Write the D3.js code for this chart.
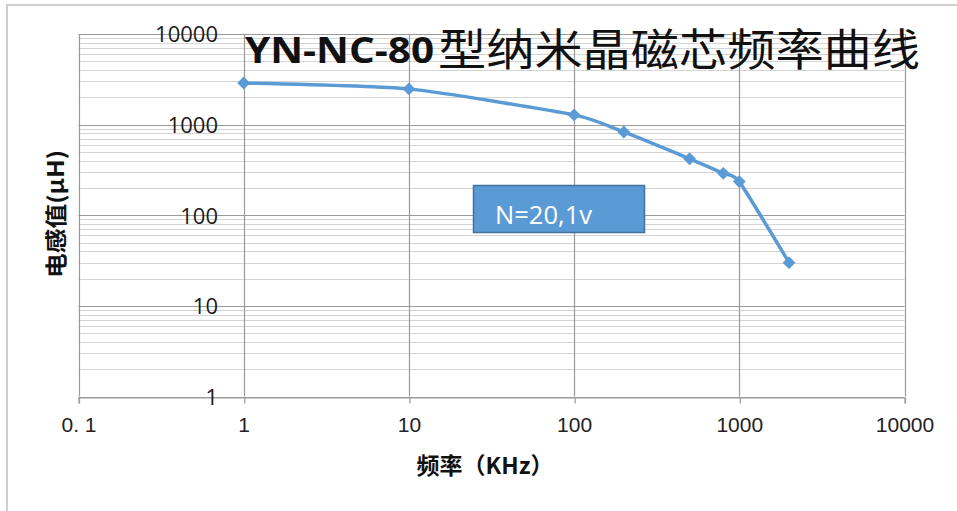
<!DOCTYPE html>
<html>
<head>
<meta charset="utf-8">
<script src="https://cdn.jsdelivr.net/npm/d3@7"></script>
<style>
  html, body { margin: 0; padding: 0; background: #fff; }
  svg { display: block; }
</style>
</head>
<body>
<svg id="chart" width="957" height="511"></svg>
<script>
// ---- data ----
const frequencies = [1, 10, 100, 200, 500, 800, 1000, 2000];      // KHz
const inductance  = [2880, 2480, 1280, 830, 420, 290, 235, 30];   // µH
const xTickValues = [0.1, 1, 10, 100, 1000, 10000];
const xTickLabels = ["0. 1", "1", "10", "100", "1000", "10000"];
const yTickValues = [1, 10, 100, 1000, 10000];
const yTickLabels = ["1", "10", "100", "1000", "10000"];
const titleLatin = "YN-NC-80";
const titleCJK = "型纳米晶磁芯频率曲线";
const xTitle = "频率（KHz）";
const yTitle = "电感值(μH)";
const noteText = "N=20,1v";

const svg = d3.select("#chart");

// outer frame
svg.append("rect").attr("x", 7).attr("y", 5).attr("width", 970).attr("height", 530)
  .attr("fill", "#fff").attr("stroke", "#bfbfbf").attr("stroke-width", 1.5);

const x = d3.scaleLog().domain([0.1, 10000]).range([78.5, 904.5]);
const y = d3.scaleLog().domain([1, 10000]).range([396.5, 34]);

const g = svg.append("g");

// minor horizontal gridlines
const minor = [];
for (let d = 1; d < 10000; d *= 10) for (let k = 2; k <= 9; k++) minor.push(d * k);
g.append("g").selectAll("line").data(minor).join("line")
  .attr("x1", x(0.1)).attr("x2", x(10000))
  .attr("y1", d => Math.round(y(d)) + 0.5).attr("y2", d => Math.round(y(d)) + 0.5)
  .attr("stroke", "#d4d4d4").attr("stroke-width", 1);

// major horizontal gridlines
g.append("g").selectAll("line").data(yTickValues).join("line")
  .attr("x1", x(0.1)).attr("x2", x(10000))
  .attr("y1", d => Math.round(y(d)) + 0.5).attr("y2", d => Math.round(y(d)) + 0.5)
  .attr("stroke", "#9a9a9a").attr("stroke-width", 1.2);

// vertical major gridlines
g.append("g").selectAll("line").data(xTickValues).join("line")
  .attr("x1", d => Math.round(x(d)) + 0.5).attr("x2", d => Math.round(x(d)) + 0.5)
  .attr("y1", y(10000)).attr("y2", y(1))
  .attr("stroke", "#9a9a9a").attr("stroke-width", 1.2);

// x axis using d3 axis (ticks + labels)
const xAxis = d3.axisBottom(x).tickValues(xTickValues)
  .tickFormat((d, i) => xTickLabels[i]).tickSize(6).tickPadding(14);
const xa = svg.append("g").attr("transform", `translate(0,${Math.round(y(1)) + 0.5})`).call(xAxis);
xa.select(".domain").attr("stroke", "#9a9a9a").attr("stroke-width", 1.2);
xa.selectAll(".tick line").attr("stroke", "#9a9a9a").attr("stroke-width", 1.2)
  .attr("transform", "translate(0.5,0)");
xa.selectAll(".tick text").attr("font-family", "'Liberation Sans', sans-serif")
  .attr("font-size", 21).attr("fill", "#222").attr("dy", "0.71em");

// y tick labels (inside plot, right aligned at x=218)
const yAxis = d3.axisLeft(y).tickValues(yTickValues)
  .tickFormat((d, i) => yTickLabels[i]).tickSize(0).tickPadding(0);
const ya = svg.append("g").attr("transform", "translate(218,0)").call(yAxis);
ya.select(".domain").remove();
ya.selectAll(".tick text").attr("font-family", "'Open Sans', sans-serif")
  .attr("font-size", 22).attr("fill", "#1a1a1a").attr("dy", "0.36em");

// data line
const pts = frequencies.map((f, i) => [f, inductance[i]]);
const line = d3.line().x(d => x(d[0])).y(d => y(d[1])).curve(d3.curveCardinal.tension(0.45));
svg.append("path").datum(pts).attr("d", line)
  .attr("fill", "none").attr("stroke", "#5b9bd5").attr("stroke-width", 3.5)
  .attr("stroke-linejoin", "round").attr("stroke-linecap", "round");

// diamond markers
svg.append("g").selectAll("path").data(pts).join("path")
  .attr("d", d3.symbol().type(d3.symbolDiamond2).size(105))
  .attr("transform", d => `translate(${x(d[0])},${y(d[1])})`)
  .attr("fill", "#5b9bd5");

// title
svg.append("text").attr("x", 245).attr("y", 63)
  .attr("font-family", "'Open Sans', 'Liberation Sans', sans-serif").attr("font-weight", "bold")
  .attr("font-size", 36).attr("textLength", 189).attr("lengthAdjust", "spacingAndGlyphs")
  .attr("fill", "#111").text(titleLatin);
svg.append("text").attr("x", 438).attr("y", 66)
  .attr("font-family", "'Noto Sans CJK SC', sans-serif")
  .attr("font-size", 44).attr("textLength", 482).attr("lengthAdjust", "spacingAndGlyphs")
  .attr("fill", "#111").text(titleCJK);

// axis titles
svg.append("text").attr("x", 485).attr("y", 474).attr("text-anchor", "middle")
  .attr("font-family", "'Noto Sans CJK SC', sans-serif").attr("font-weight", "bold")
  .attr("font-size", 23).attr("fill", "#111").text(xTitle);
svg.append("text").attr("transform", "translate(64,214) rotate(-90)").attr("text-anchor", "middle")
  .attr("font-family", "'Noto Sans CJK SC', sans-serif").attr("font-weight", "bold")
  .attr("font-size", 22).attr("textLength", 128).attr("lengthAdjust", "spacingAndGlyphs")
  .attr("fill", "#111").text(yTitle);

// note box
svg.append("rect").attr("x", 473.5).attr("y", 185.5).attr("width", 171).attr("height", 47)
  .attr("fill", "#5b9bd5").attr("stroke", "#41719c").attr("stroke-width", 1.5);
svg.append("text").attr("x", 495).attr("y", 224)
  .attr("font-family", "'Open Sans', sans-serif").attr("font-size", 25)
  .attr("textLength", 97).attr("lengthAdjust", "spacingAndGlyphs")
  .attr("fill", "#fff").text(noteText);
</script>
</body>
</html>
